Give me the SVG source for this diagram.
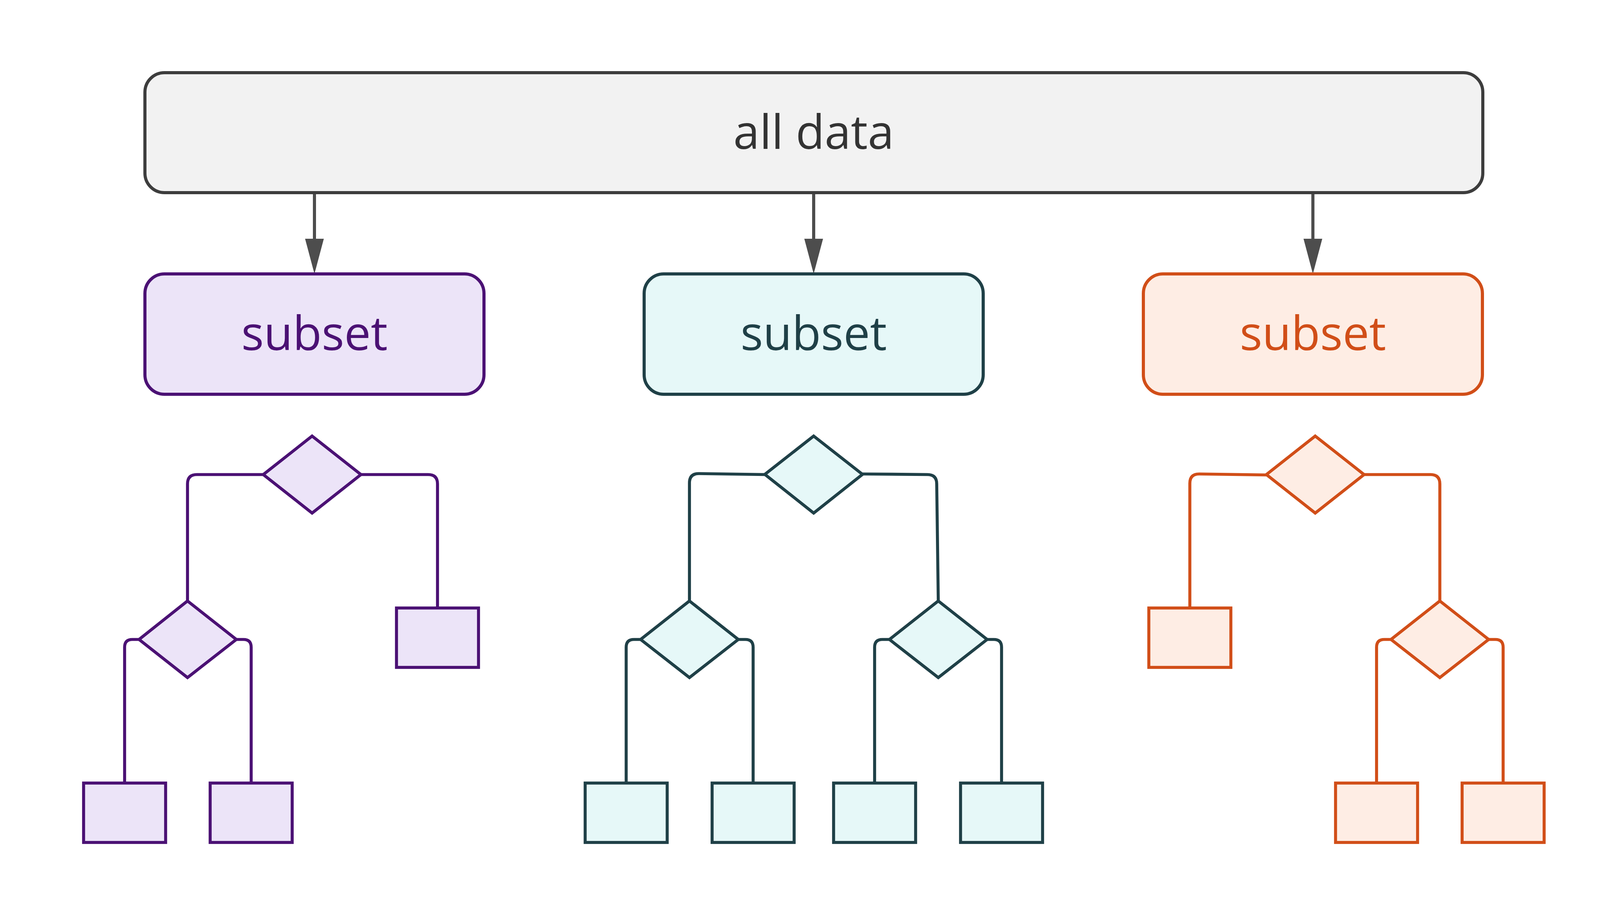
<svg xmlns="http://www.w3.org/2000/svg" width="4167" height="2334" viewBox="0 0 4167 2334">
<style>
  .lbl { font-family: "Open Sans", "Noto Sans", "DejaVu Sans", sans-serif; font-size: 121px; text-anchor: middle; }
  .root rect { fill: #F2F2F2; stroke: #3D3D3D; stroke-width: 8; }
  .root text { fill: #333333; }
  .p { fill: #ECE4F8; stroke: #4B1174; }
  .t { fill: #E6F8F8; stroke: #1F4047; }
  .o { fill: #FEEDE4; stroke: #D14E18; }
  .sub { stroke-width: 8; }
  .tn { stroke-width: 7.7; }
  .ptxt { fill: #4B1174; }
  .ttxt { fill: #1F4047; }
  .otxt { fill: #D14E18; }
  .edge { fill: none; stroke: #4D4D4D; stroke-width: 8; }
  .pe { fill: none; stroke: #4B1174; stroke-width: 7.7; }
  .te { fill: none; stroke: #1F4047; stroke-width: 7.7; }
  .oe { fill: none; stroke: #D14E18; stroke-width: 7.7; }
</style>
<defs>
  <marker id="arr" viewBox="0 0 90 48" refX="0" refY="24" markerWidth="90" markerHeight="48" markerUnits="userSpaceOnUse" orient="auto">
    <path d="M0,0 L90,24 L0,48 z" fill="#4D4D4D"/>
  </marker>
</defs>
<rect width="4167" height="2334" fill="#FFFFFF"/>

<g id="connectors">
  <path class="edge" d="M805,493 V611" marker-end="url(#arr)"/>
  <path class="edge" d="M2083,493 V611" marker-end="url(#arr)"/>
  <path class="edge" d="M3361,493 V611" marker-end="url(#arr)"/>

  <path class="pe" d="M674,1214.5 H504 Q480,1214.5 480,1238.5 V1538"/>
  <path class="pe" d="M924,1214.5 H1096 Q1120,1214.5 1120,1238.5 V1556"/>
  <path class="pe" d="M356,1636.5 H339 Q319,1636.5 319,1656.5 V2004"/>
  <path class="pe" d="M605,1636.5 H623 Q643,1636.5 643,1656.5 V2004"/>

  <path class="te" d="M1958,1214.5 L1789,1212 Q1765,1212 1765,1236 V1538"/>
  <path class="te" d="M2208,1213 L2374,1214.5 Q2398,1214.5 2398,1238.5 L2402,1538"/>
  <path class="te" d="M1640,1636.5 H1623 Q1603,1636.5 1603,1656.5 V2004"/>
  <path class="te" d="M1890,1636.5 H1908 Q1928,1636.5 1928,1656.5 V2004"/>
  <path class="te" d="M2277,1636.5 H2259 Q2239,1636.5 2239,1656.5 V2004"/>
  <path class="te" d="M2527,1636.5 H2544 Q2564,1636.5 2564,1656.5 V2004"/>

  <path class="oe" d="M3242,1215.5 L3070,1213 Q3046,1213 3046,1237 V1556"/>
  <path class="oe" d="M3492,1214.5 H3662 Q3686,1214.5 3686,1238.5 V1538"/>
  <path class="oe" d="M3561,1636.5 H3544 Q3524,1636.5 3524,1656.5 V2004"/>
  <path class="oe" d="M3811,1636.5 H3828 Q3848,1636.5 3848,1656.5 V2004"/>
</g>

<g id="all-data" class="root">
  <rect x="371" y="186" width="3425" height="307" rx="50" ry="50"/>
  <text class="lbl" x="2083" y="381">all data</text>
</g>

<g id="subset-purple">
  <rect class="p sub" x="371" y="701" width="868" height="308" rx="50" ry="50"/>
  <text class="lbl ptxt" x="805" y="896">subset</text>
</g>
<g id="subset-teal">
  <rect class="t sub" x="1649" y="701" width="868" height="308" rx="50" ry="50"/>
  <text class="lbl ttxt" x="2083" y="896">subset</text>
</g>
<g id="subset-orange">
  <rect class="o sub" x="2927" y="701" width="868" height="308" rx="50" ry="50"/>
  <text class="lbl otxt" x="3361" y="896">subset</text>
</g>

<g id="p-split1"><polygon class="p tn" points="799,1116 924,1214.5 799,1313 674,1214.5"/></g>
<g id="p-split2"><polygon class="p tn" points="480,1538 605,1636.5 480,1734 356,1636.5"/></g>
<g id="p-leaf1"><rect class="p tn" x="214" y="2004" width="210" height="152"/></g>
<g id="p-leaf2"><rect class="p tn" x="538" y="2004" width="210" height="152"/></g>
<g id="p-leaf3"><rect class="p tn" x="1015" y="1556" width="210" height="152"/></g>

<g id="t-split1"><polygon class="t tn" points="2083,1116 2208,1214 2083,1313 1958,1214"/></g>
<g id="t-split2"><polygon class="t tn" points="1765,1538 1890,1636.5 1765,1734 1640,1636.5"/></g>
<g id="t-split3"><polygon class="t tn" points="2402,1538 2527,1636.5 2402,1734 2277,1636.5"/></g>
<g id="t-leaf1"><rect class="t tn" x="1498" y="2004" width="210" height="152"/></g>
<g id="t-leaf2"><rect class="t tn" x="1823" y="2004" width="210" height="152"/></g>
<g id="t-leaf3"><rect class="t tn" x="2134" y="2004" width="210" height="152"/></g>
<g id="t-leaf4"><rect class="t tn" x="2459" y="2004" width="210" height="152"/></g>

<g id="o-split1"><polygon class="o tn" points="3367,1116 3492,1214.5 3367,1313 3242,1214.5"/></g>
<g id="o-split2"><polygon class="o tn" points="3686,1538 3811,1636.5 3686,1734 3561,1636.5"/></g>
<g id="o-leaf1"><rect class="o tn" x="2941" y="1556" width="210" height="152"/></g>
<g id="o-leaf2"><rect class="o tn" x="3419" y="2004" width="210" height="152"/></g>
<g id="o-leaf3"><rect class="o tn" x="3743" y="2004" width="210" height="152"/></g>
</svg>
